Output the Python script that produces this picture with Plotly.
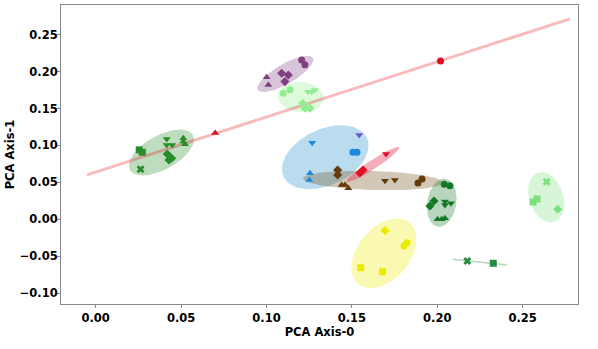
import numpy as np
import plotly.graph_objects as go

# marker points per group: x, y, symbol
grp_left_x = [0.0255, 0.0273, 0.0263, 0.0416, 0.0416, 0.0448, 0.0513, 0.0513, 0.0523, 0.0419, 0.0429, 0.0445]
grp_left_y = [0.0940, 0.0908, 0.0678, 0.1088, 0.1007, 0.1007, 0.1098, 0.1052, 0.1016, 0.0885, 0.0804, 0.0827]
grp_left_s = ['square', 'square', 'x', 'triangle-down', 'triangle-down', 'triangle-down',
              'triangle-up', 'triangle-up', 'triangle-up', 'diamond', 'diamond', 'diamond']

red_x = [0.0700, 0.2019]
red_y = [0.1169, 0.2144]
red_s = ['triangle-up', 'circle']

purple_x = [0.1001, 0.1011, 0.1089, 0.1128, 0.1108, 0.1206, 0.1225]
purple_y = [0.1923, 0.1819, 0.1977, 0.1954, 0.1864, 0.2157, 0.2090]
purple_s = ['triangle-up', 'triangle-up', 'diamond', 'diamond', 'diamond', 'circle', 'circle']

lgreen_x = [0.1098, 0.1138, 0.1243, 0.1265, 0.1284, 0.1212, 0.1225, 0.1255]
lgreen_y = [0.1707, 0.1752, 0.1728, 0.1728, 0.1751, 0.1571, 0.1504, 0.1504]
lgreen_s = ['circle', 'circle', 'triangle-down', 'triangle-down', 'triangle-down', 'diamond', 'diamond', 'diamond']

blue_x = [0.1268, 0.1506, 0.1530, 0.1255, 0.1251]
blue_y = [0.1038, 0.0908, 0.0908, 0.0624, 0.0533]
blue_s = ['triangle-down', 'circle', 'circle', 'triangle-up', 'triangle-up']

slate_x = [0.1543]
slate_y = [0.1142]
slate_s = ['triangle-down']

brown_x = [0.1417, 0.1417, 0.1440, 0.1460, 0.1479, 0.1694, 0.1752, 0.1887, 0.1911]
brown_y = [0.0668, 0.0601, 0.0466, 0.0466, 0.0421, 0.0524, 0.0533, 0.0493, 0.0547]
brown_s = ['diamond', 'diamond', 'triangle-up', 'triangle-up', 'triangle-up',
           'triangle-down', 'triangle-down', 'circle', 'circle']

crimson_x = [0.1547, 0.1565, 0.1700]
crimson_y = [0.0628, 0.0668, 0.0885]
crimson_s = ['diamond', 'diamond', 'triangle-down']

dgreen_x = [0.2041, 0.2074, 0.1957, 0.1981, 0.2045, 0.2045, 0.2080, 0.2002, 0.2026, 0.2045]
dgreen_y = [0.0475, 0.0456, 0.0181, 0.0249, 0.0240, 0.0195, 0.0218, 0.0001, 0.0001, 0.0015]
dgreen_s = ['circle', 'circle', 'diamond', 'diamond', 'triangle-down', 'triangle-down', 'triangle-down',
            'triangle-up', 'triangle-up', 'triangle-up']

lgreen2_x = [0.2640, 0.2561, 0.2584, 0.2705]
lgreen2_y = [0.0510, 0.0235, 0.0276, 0.0137]
lgreen2_s = ['x', 'square', 'square', 'diamond']

dgreen2_x = [0.2176, 0.2328]
dgreen2_y = [-0.0563, -0.0594]
dgreen2_s = ['x', 'square']

yellow_x = [0.1694, 0.1805, 0.1824, 0.1552, 0.1680]
yellow_y = [-0.0153, -0.0360, -0.0315, -0.0654, -0.0708]
yellow_s = ['diamond', 'circle', 'circle', 'square', 'square']

# ellipses: center, half-axis vector a, half-axis vector b (data units)
ell_center = [(0.0385, 0.0905), (0.1111, 0.1968), (0.1200, 0.1654), (0.1344, 0.0840),
              (0.1624, 0.0526), (0.1624, 0.0743), (0.2026, 0.0225), (0.2638, 0.0300),
              (0.1688, -0.0459)]
ell_a = [(0.01844, 0.02368), (0.0161, 0.02165), (0.01347, -0.0027), (0.02441, 0.02626),
         (0.04098, -0.0027), (0.0154, 0.02328), (0.00234, 0.03248), (0.00486, -0.03316),
         (0.01505, 0.04141)]
ell_b = [(0.00486, -0.02017), (0.00293, -0.01164), (-0.00076, -0.0203), (0.00691, -0.03438),
         (0.0, -0.0129), (0.00144, -0.0051), (0.00837, -0.00325), (0.00943, 0.00738),
         (0.01165, -0.0226)]
ell_fill = ['rgba(40,140,40,0.3)', 'rgba(128,64,128,0.3)', 'rgba(144,238,144,0.3)',
            'rgba(100,180,220,0.45)', 'rgba(110,70,20,0.3)', 'rgba(230,20,60,0.35)',
            'rgba(20,120,40,0.3)', 'rgba(124,224,124,0.3)', 'rgba(235,235,0,0.3)']

# two-point groups drawn as lines
red_line_x = [-0.0051, 0.2777]
red_line_y = [0.0601, 0.2712]
dg_line_x = [0.2090, 0.2410]
dg_line_y = [-0.0540, -0.0617]

fig = go.Figure()

t = np.linspace(0, 2 * np.pi, 120)
for (cx, cy), (ax, ay), (bx, by), fc in zip(ell_center, ell_a, ell_b, ell_fill):
    fig.add_trace(go.Scatter(x=cx + ax * np.cos(t) + bx * np.sin(t),
                             y=cy + ay * np.cos(t) + by * np.sin(t),
                             mode='lines', fill='toself', line=dict(width=0),
                             fillcolor=fc, hoverinfo='skip'))

fig.add_trace(go.Scatter(x=red_line_x, y=red_line_y, mode='lines',
                         line=dict(color='rgba(230,30,40,0.3)', width=3)))
fig.add_trace(go.Scatter(x=dg_line_x, y=dg_line_y, mode='lines',
                         line=dict(color='rgba(20,120,40,0.3)', width=1.5)))

groups = [
    (grp_left_x, grp_left_y, grp_left_s, 'rgb(40,140,40)'),
    (red_x, red_y, red_s, 'rgb(225,15,30)'),
    (purple_x, purple_y, purple_s, 'rgb(128,64,128)'),
    (lgreen_x, lgreen_y, lgreen_s, 'rgb(144,238,144)'),
    (blue_x, blue_y, blue_s, 'rgb(30,136,220)'),
    (slate_x, slate_y, slate_s, 'rgb(106,90,205)'),
    (brown_x, brown_y, brown_s, 'rgb(100,60,10)'),
    (crimson_x, crimson_y, crimson_s, 'rgb(225,15,40)'),
    (dgreen_x, dgreen_y, dgreen_s, 'rgb(20,120,40)'),
    (lgreen2_x, lgreen2_y, lgreen2_s, 'rgb(124,224,124)'),
    (dgreen2_x, dgreen2_y, dgreen2_s, 'rgb(40,140,60)'),
    (yellow_x, yellow_y, yellow_s, 'rgb(235,235,0)'),
]
for gx, gy, gs, col in groups:
    fig.add_trace(go.Scatter(x=gx, y=gy, mode='markers',
                             marker=dict(symbol=gs, color=col, size=7, line=dict(width=0))))

axis_font = dict(family='DejaVu Sans', size=11.5, color='black', weight='bold')
fig.update_xaxes(range=[-0.0203, 0.2824], tickvals=[0, 0.05, 0.10, 0.15, 0.20, 0.25],
                 tickformat='.2f', showgrid=False, zeroline=False,
                 showline=True, linecolor='#888', mirror=True, linewidth=1,
                 ticks='outside', ticklen=3, tickcolor='#888', tickfont=axis_font,
                 title=dict(text='PCA Axis-0', font=axis_font, standoff=4))
fig.update_yaxes(range=[-0.1145, 0.290], tickvals=[-0.10, -0.05, 0, 0.05, 0.10, 0.15, 0.20, 0.25],
                 tickformat='.2f', showgrid=False, zeroline=False,
                 showline=True, linecolor='#888', mirror=True, linewidth=1,
                 ticks='outside', ticklen=3, tickcolor='#888', tickfont=axis_font,
                 ticklabelstandoff=-3,
                 title=dict(text='PCA Axis-1', font=axis_font, standoff=2))
fig.update_layout(width=598, height=349, showlegend=False,
                  margin=dict(l=61, r=20, t=5, b=45),
                  plot_bgcolor='white', paper_bgcolor='white')

fig.write_html("out.html", config={'displayModeBar': False},
               post_script="document.body.style.margin='0';")
